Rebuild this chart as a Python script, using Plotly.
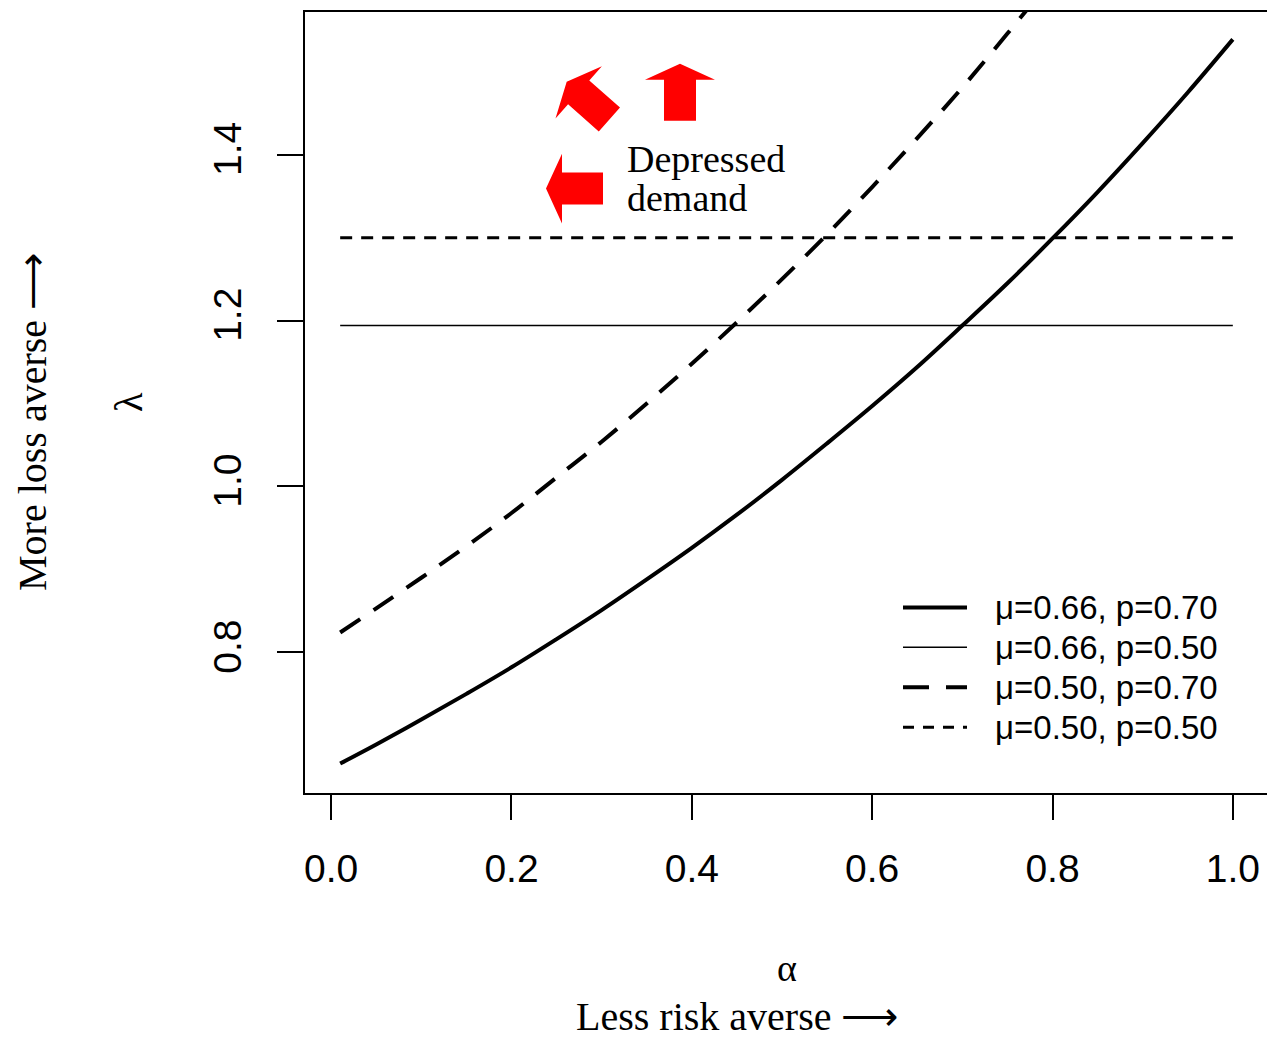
import plotly.graph_objects as go

# ---------------- data ----------------
alpha = [0.01, 0.05, 0.10, 0.15, 0.20, 0.25, 0.30, 0.35, 0.40, 0.45, 0.50,
         0.55, 0.60, 0.65, 0.70, 0.75, 0.80, 0.85, 0.90, 0.95, 1.00]

lam_mu066_p070 = [0.666, 0.689, 0.719, 0.750, 0.782, 0.816, 0.851, 0.888, 0.926, 0.966, 1.008,
                  1.052, 1.097, 1.144, 1.194, 1.245, 1.299, 1.355, 1.414, 1.475, 1.539]
lam_mu050_p070 = [0.824, 0.853, 0.890, 0.928, 0.968, 1.011, 1.054, 1.100, 1.148, 1.198, 1.250,
                  1.304, 1.361, 1.420, 1.481, 1.546, 1.613, 1.683, 1.756, 1.832, 1.912]
lam_mu066_p050 = 1.194   # horizontal line
lam_mu050_p050 = 1.300   # horizontal line
h_alpha = [0.01, 1.00]

legend_labels = ["\u03bc=0.66, p=0.70", "\u03bc=0.66, p=0.50",
                 "\u03bc=0.50, p=0.70", "\u03bc=0.50, p=0.50"]
x_ticks = [0.0, 0.2, 0.4, 0.6, 0.8, 1.0]
x_ticklabels = ["0.0", "0.2", "0.4", "0.6", "0.8", "1.0"]
y_ticks = [0.8, 1.0, 1.2, 1.4]
y_ticklabels = ["0.8", "1.0", "1.2", "1.4"]

# ---------------- layout geometry ----------------
OFF = 8                      # page body margin offset
W, H = 1267, 1040
L_M, T_M = 305 - OFF, 10 - OFF
R_M = W - (1268 - OFF)
B_M = H - (793 - OFF)
PW = W - L_M - R_M
PH = H - T_M - B_M


def px2paper(px, py):
    """page pixel -> paper coordinates"""
    return ((px - OFF) - L_M) / PW, 1 - ((py - OFF) - T_M) / PH


SANS = "Liberation Sans, Arial, sans-serif"
SERIF = "Liberation Serif, Times New Roman, serif"

fig = go.Figure()

fig.add_trace(go.Scatter(x=alpha, y=lam_mu066_p070, mode="lines",
                         line=dict(color="black", width=4, shape="spline"),
                         name=legend_labels[0], showlegend=False))
fig.add_trace(go.Scatter(x=h_alpha, y=[lam_mu066_p050] * 2, mode="lines",
                         line=dict(color="black", width=1.5),
                         name=legend_labels[1], showlegend=False))
fig.add_trace(go.Scatter(x=alpha, y=lam_mu050_p070, mode="lines",
                         line=dict(color="black", width=4, dash="24px,16px", shape="spline"),
                         name=legend_labels[2], showlegend=False))
fig.add_trace(go.Scatter(x=h_alpha, y=[lam_mu050_p050] * 2, mode="lines",
                         line=dict(color="black", width=3, dash="12px,9px"),
                         name=legend_labels[3], showlegend=False))

shapes = []
annotations = []

# ---------------- manual legend (R style) ----------------
leg_styles = [dict(width=4, dash="solid"), dict(width=1.5, dash="solid"),
              dict(width=4, dash="26px,17px"), dict(width=3, dash="11px,9px")]
leg_rows = [607, 647, 687, 727]
for lab, st, ry in zip(legend_labels, leg_styles, leg_rows):
    x0, y0 = px2paper(903, ry)
    x1, _ = px2paper(967, ry)
    shapes.append(dict(type="line", xref="paper", yref="paper", x0=x0, x1=x1, y0=y0, y1=y0,
                       line=dict(color="black", width=st["width"], dash=st["dash"])))
    tx, ty = px2paper(993, ry)
    annotations.append(dict(text=lab, xref="paper", yref="paper", x=tx, y=ty,
                            xanchor="left", yanchor="middle", showarrow=False,
                            font=dict(family=SANS, size=33, color="black")))


# ---------------- red block arrows ----------------
def block_arrow(tip, d, L=57, Hh=16, hw=35, sw=16):
    import math
    n0 = math.hypot(*d)
    dx, dy = d[0] / n0, d[1] / n0
    nx, ny = -dy, dx
    tx, ty = tip
    bx, by = tx - dx * Hh, ty - dy * Hh
    ex, ey = tx - dx * L, ty - dy * L
    pts = [(tx, ty), (bx + nx * hw, by + ny * hw), (bx + nx * sw, by + ny * sw),
           (ex + nx * sw, ey + ny * sw), (ex - nx * sw, ey - ny * sw),
           (bx - nx * sw, by - ny * sw), (bx - nx * hw, by - ny * hw)]
    pp = [px2paper(x, y) for x, y in pts]
    path = "M " + " L ".join(f"{x:.5f},{y:.5f}" for x, y in pp) + " Z"
    return dict(type="path", xref="paper", yref="paper", path=path,
                fillcolor="#ff0000", line=dict(width=0))


shapes.append(block_arrow((680, 62), (0, -1)))
shapes.append(block_arrow((546, 187), (-1, 0)))
shapes.append(block_arrow((566.7, 80), (-43.3, -38.3)))


# ---------------- text annotations ----------------
def add_text(txt, px, py, size, family=SERIF, angle=0, xanchor="center"):
    x, y = px2paper(px, py)
    annotations.append(dict(text=txt, xref="paper", yref="paper", x=x, y=y,
                            xanchor=xanchor, yanchor="middle", showarrow=False,
                            textangle=angle,
                            font=dict(family=family, size=size, color="black")))


add_text("Depressed", 625, 157, 38, xanchor="left")
add_text("demand", 625, 196, 38, xanchor="left")
add_text("\u03bb", 128, 401, 40, angle=-90)
add_text("More loss averse \u27f6", 33, 421, 40, angle=-90)
add_text("\u03b1", 787, 968, 38)
add_text("Less risk averse \u27f6", 737, 1017, 40)

fig.update_layout(
    width=W, height=H,
    margin=dict(l=L_M, r=R_M, t=T_M, b=B_M, pad=0),
    paper_bgcolor="white", plot_bgcolor="white",
    shapes=shapes, annotations=annotations,
    showlegend=False,
    xaxis=dict(range=[-0.029, 1.039], tickvals=x_ticks, ticktext=x_ticklabels,
               showgrid=False, zeroline=False, showline=True, mirror=True,
               linecolor="black", linewidth=2, ticks="outside", ticklen=25,
               tickwidth=2, tickcolor="black", ticklabelstandoff=15,
               tickfont=dict(family=SANS, size=39, color="black")),
    yaxis=dict(range=[0.6305, 1.572], tickvals=y_ticks, ticktext=y_ticklabels,
               showgrid=False, zeroline=False, showline=True, mirror=True,
               linecolor="black", linewidth=2, ticks="outside", ticklen=26,
               tickwidth=2, tickcolor="black", tickangle=-90, ticklabelstandoff=20,
               tickfont=dict(family=SANS, size=39, color="black")),
)

fig.write_html("out.html")
